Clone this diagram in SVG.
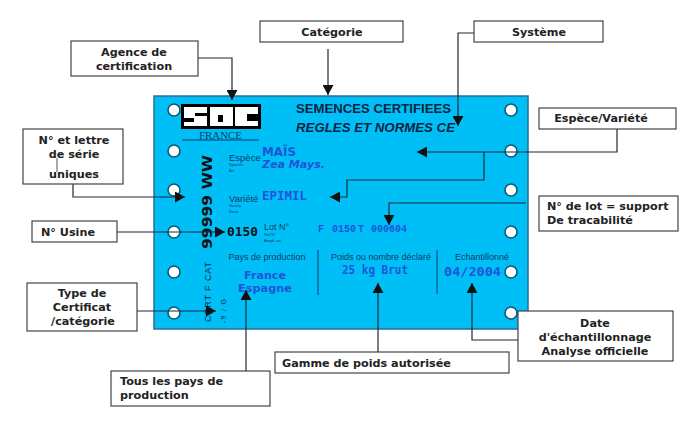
<svg xmlns="http://www.w3.org/2000/svg" width="700" height="424" viewBox="0 0 700 424">
<style>
.box{fill:#fff;stroke:#444;stroke-width:1.2}
.lb{font:bold 11.2px "DejaVu Sans",sans-serif;fill:#222;text-anchor:middle}
.ls{text-anchor:start}
.hole{fill:#fff;stroke:#0b5a78;stroke-width:1.6}
.c{fill:none;stroke:#1a2a38;stroke-width:1.2}
.blue{font-family:"DejaVu Sans",sans-serif;font-weight:bold;fill:#1c55d8}
.mono{font-family:"DejaVu Sans Mono",monospace;font-weight:bold;fill:#1c55d8}
.lotn{font-family:"Liberation Mono",monospace;font-weight:bold;font-size:10px;fill:#1c55d8}
.sm{font-family:"Liberation Sans",sans-serif;fill:#0d3a66}
.hd{font-family:"Liberation Sans",sans-serif;font-weight:bold;fill:#0a2540;font-size:13px}
</style>
<defs>
<marker id="a" markerUnits="userSpaceOnUse" markerWidth="11" markerHeight="11" refX="10" refY="5.5" orient="auto"><path d="M0 0L10 5.5L0 11Z" fill="#111"/></marker>
</defs>
<rect width="700" height="424" fill="#fff"/>
<g id="card">
<rect x="154" y="96" width="374" height="233" fill="#00bff7" stroke="#2a6f8a" stroke-width="1.5"/>
<g id="holes">
<circle class="hole" cx="174" cy="110" r="6"/><circle class="hole" cx="174" cy="151" r="6"/><circle class="hole" cx="174" cy="190" r="6"/><circle class="hole" cx="174" cy="232" r="6"/><circle class="hole" cx="174" cy="272" r="6"/><circle class="hole" cx="174" cy="313" r="6"/>
<circle class="hole" cx="511" cy="110" r="6"/><circle class="hole" cx="511" cy="151" r="6"/><circle class="hole" cx="511" cy="190" r="6"/><circle class="hole" cx="511" cy="232" r="6"/><circle class="hole" cx="511" cy="272" r="6"/><circle class="hole" cx="511" cy="313" r="6"/>
</g>
<g id="logo">
<rect x="181" y="104" width="80" height="25" fill="#000"/>
<rect x="184" y="107" width="23" height="19" fill="#fff"/><rect x="210" y="107" width="23" height="19" fill="#fff"/><rect x="235" y="107" width="23" height="19" fill="#fff"/>
<path d="M195 113h12v3h-12zM184 118h10v4h-10zM218 115h5v7h-5zM247 114h11v7h-11z" fill="#000"/>
<line x1="182" y1="140" x2="259" y2="140" stroke="#0d3a66"/>
<text x="199" y="139" font-family="Liberation Serif,serif" font-size="11" fill="#0d3a66" textLength="43" lengthAdjust="spacingAndGlyphs">FRANCE</text>
</g>
<text class="hd" x="296" y="113" textLength="155" lengthAdjust="spacingAndGlyphs">SEMENCES CERTIFIEES</text>
<text class="hd" x="296" y="132" font-style="italic" textLength="159" lengthAdjust="spacingAndGlyphs">REGLES ET NORMES CE</text>
<text class="sm" x="229" y="161" font-size="9.500">Espèce</text>
<text class="sm" x="229" y="166" font-size="4">Species</text>
<text class="sm" x="229" y="172" font-size="4">Art</text>
<text class="blue" x="262" y="156" font-size="12" textLength="34" lengthAdjust="spacingAndGlyphs">MAÏS</text>
<text class="blue" x="262" y="168" font-size="11" font-style="italic" textLength="63" lengthAdjust="spacingAndGlyphs">Zea Mays.</text>
<text class="sm" x="229" y="202" font-size="9.500">Variété</text>
<text class="sm" x="229" y="207" font-size="4">Variety</text>
<text class="sm" x="229" y="213" font-size="4">Sorte</text>
<text class="mono" x="262" y="200" font-size="12" textLength="45" lengthAdjust="spacingAndGlyphs">EPIMIL</text>
<text transform="translate(212,249) rotate(-90)" font-family="DejaVu Sans,sans-serif" font-weight="bold" font-size="14" fill="#111" textLength="94" lengthAdjust="spacingAndGlyphs">99999 WW</text>
<text x="227" y="236" font-family="DejaVu Sans Mono,monospace" font-weight="bold" font-size="13" fill="#111" textLength="31" lengthAdjust="spacingAndGlyphs">0150</text>
<text class="sm" x="264" y="230" font-size="9">Lot N°</text>
<text class="sm" x="264" y="236" font-size="4">Ref N°</text>
<text class="sm" x="264" y="242" font-size="4">Ampli.-vo</text>
<text class="lotn" y="232"><tspan x="318">F</tspan><tspan x="332">0150</tspan><tspan x="358">T</tspan><tspan x="371">000604</tspan></text>
<text class="sm" x="267" y="260" font-size="9" text-anchor="middle">Pays de production</text>
<text class="sm" x="381" y="260" font-size="9" text-anchor="middle">Poids ou nombre déclaré</text>
<text class="sm" x="482" y="260" font-size="9" text-anchor="middle">Echantillonné</text>
<text class="blue" x="244" y="279" font-size="11" textLength="42" lengthAdjust="spacingAndGlyphs">France</text>
<text class="blue" x="238" y="292" font-size="11" textLength="54" lengthAdjust="spacingAndGlyphs">Espagne</text>
<text class="mono" x="342" y="274" font-size="11.500" textLength="66" lengthAdjust="spacingAndGlyphs">25 kg Brut</text>
<text class="mono" x="444" y="276" font-size="13" textLength="57" lengthAdjust="spacingAndGlyphs">04/2004</text>
<path d="M318 250V295M437 250V294" stroke="#0d3a66" fill="none"/>
<text transform="translate(211,322) rotate(-90)" font-family="Liberation Sans,sans-serif" font-size="9" fill="#0d2a4a" textLength="60">CERT F CAT</text>
<text transform="translate(226,323) rotate(-90)" font-family="Liberation Sans,sans-serif" font-size="7" fill="#0d2a4a" textLength="24">-9 / G</text>
</g>
<g id="connectors">
<path class="c" d="M198 58H232V100" marker-end="url(#a)"/>
<path class="c" d="M328 49V95" marker-end="url(#a)"/>
<path class="c" d="M474 33H458V126" marker-end="url(#a)"/>
<path class="c" d="M617 129V152H417" marker-end="url(#a)"/>
<path class="c" d="M484 152V180H347V197H330" marker-end="url(#a)"/>
<path class="c" d="M526 203H389V225" marker-end="url(#a)"/>
<path class="c" d="M73 184V197H185" marker-end="url(#a)"/>
<path class="c" d="M117 232H225" marker-end="url(#a)"/>
<path class="c" d="M137 311H216" marker-end="url(#a)"/>
<path class="c" d="M246 371V290" marker-end="url(#a)"/>
<path class="c" d="M378 352V283" marker-end="url(#a)"/>
<path class="c" d="M518 340H472V283" marker-end="url(#a)"/>
</g>
<g id="agence"><rect class="box" x="71" y="41" width="127" height="35"/><text class="lb" x="134" y="56">Agence de</text><text class="lb" x="134" y="70">certification</text></g>
<g id="categorie"><rect class="box" x="260" y="21" width="143" height="21"/><text class="lb" x="332" y="36">Catégorie</text></g>
<g id="systeme"><rect class="box" x="474" y="21" width="129" height="21"/><text class="lb" x="539" y="36">Système</text></g>
<g id="espece"><rect class="box" x="539" y="108" width="137" height="21"/><text class="lb" x="601" y="122">Espèce/Variété</text></g>
<g id="serie"><rect class="box" x="23" y="129" width="100" height="55"/><path d="M57 158V172" stroke="#555" fill="none"/><text class="lb" x="74" y="144">N° et lettre</text><text class="lb" x="74" y="158">de série</text><text class="lb" x="74" y="178">uniques</text></g>
<g id="usine"><rect class="box" x="32" y="221" width="85" height="21"/><text class="lb" x="68" y="236">N° Usine</text></g>
<g id="lot"><rect class="box" x="539" y="196" width="139" height="35"/><text class="lb ls" x="547" y="210">N° de lot = support</text><text class="lb ls" x="547" y="224">De tracabilité</text></g>
<g id="type"><rect class="box" x="27" y="283" width="110" height="48"/><text class="lb" x="82" y="297">Type de</text><text class="lb" x="82" y="311">Certificat</text><text class="lb" x="83" y="325">/catégorie</text></g>
<g id="date"><rect class="box" x="518" y="311" width="155" height="50"/><text class="lb" x="595" y="327">Date</text><text class="lb" x="595" y="341">d'échantillonnage</text><text class="lb" x="595" y="355">Analyse officielle</text></g>
<g id="gamme"><rect class="box" x="275" y="352" width="234" height="21"/><text class="lb ls" x="282" y="367">Gamme de poids autorisée</text></g>
<g id="pays"><rect class="box" x="111" y="371" width="159" height="35"/><text class="lb ls" x="120" y="385">Tous les pays de</text><text class="lb ls" x="120" y="399">production</text></g>
</svg>
